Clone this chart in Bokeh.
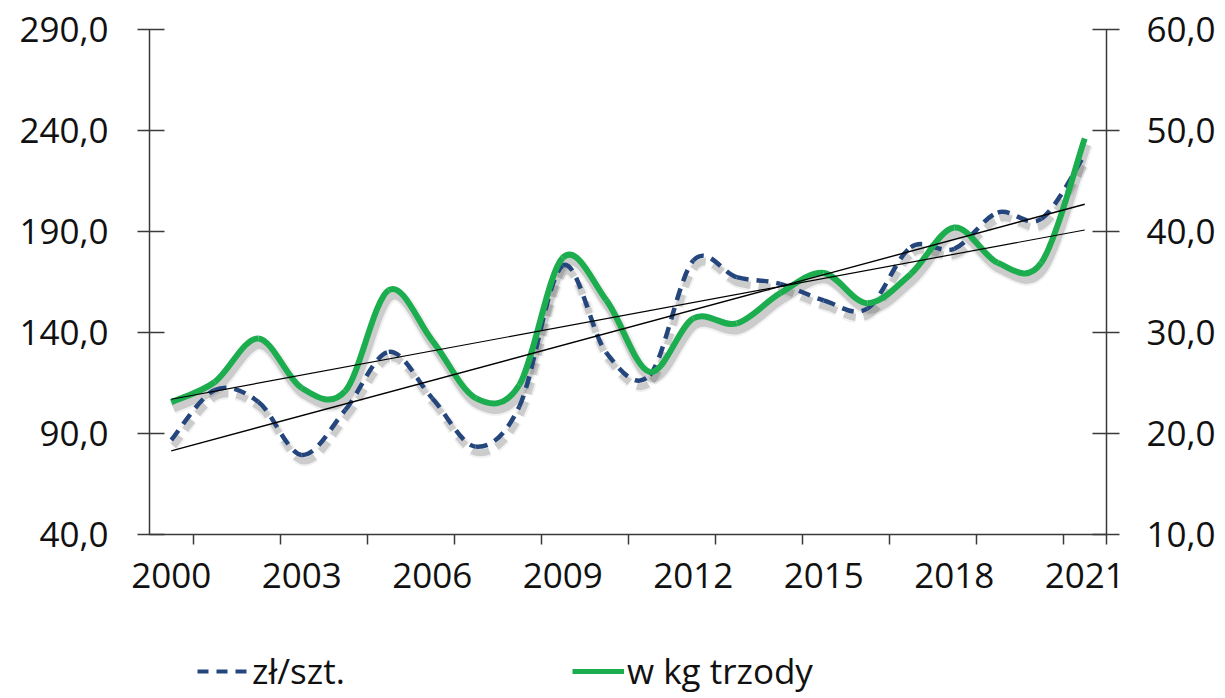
import numpy as np
from bokeh.plotting import figure
from bokeh.layouts import column
from bokeh.models import (Range1d, LinearAxis, FixedTicker, Legend, LegendItem,
                          ColumnDataSource)
from bokeh.embed import file_html
from bokeh.resources import INLINE

# ---------------- data ----------------
years = list(range(2000, 2022))
zl_szt = [86.8, 111.5, 105.7, 79.4, 101.6, 130.4, 107.5, 83.5, 103.3, 173.1, 130.0,
          118.9, 175.6, 167.4, 164.1, 155.9, 151.8, 182.2, 181.4, 199.4, 196.2, 228.0]
kg_trzody = [23.1, 25.1, 29.4, 24.5, 24.2, 34.2, 29.2, 23.5, 24.8, 37.4, 33.2,
             26.1, 31.4, 30.9, 33.9, 35.9, 32.9, 35.8, 40.4, 36.9, 36.9, 49.2]
left_ticks = [40, 90, 140, 190, 240, 290]
left_labels = ["40,0", "90,0", "140,0", "190,0", "240,0", "290,0"]
right_ticks = [10, 20, 30, 40, 50, 60]
right_labels = ["10,0", "20,0", "30,0", "40,0", "50,0", "60,0"]
x_label_years = [2000, 2003, 2006, 2009, 2012, 2015, 2018, 2021]
series_names = ["zł/szt.", "w kg trzody"]

# ---------------- style ----------------
FONT = "Open Sans"
FS = "35px"
NAVY = "#24467c"
GREEN = "#1cad4f"
AXIS_C = "#3a3a3a"

W, H, HL = 1225, 640, 58
ML, MR, MT, MB = 149, 119, 29, 106
frame_w = W - ML - MR
frame_h = H - MT - MB

p = figure(width=W, height=H, output_backend="svg", toolbar_location=None,
           x_range=Range1d(1999.5, 2021.5), y_range=Range1d(40, 290),
           min_border_left=ML, min_border_right=MR, min_border_top=MT,
           min_border_bottom=MB, x_axis_type=None, y_axis_type=None)
p.extra_y_ranges = {"r": Range1d(10, 60)}
p.outline_line_color = None
p.xgrid.visible = False
p.ygrid.visible = False
p.background_fill_color = "white"
p.border_fill_color = "white"

px_x = frame_w / 22.0
px_l = frame_h / 250.0
px_r = frame_h / 50.0


def bez(xs, ys):
    xs = np.asarray(xs, float)
    ys = np.asarray(ys, float)
    n = len(xs)
    d = dict(x0=[], y0=[], x1=[], y1=[], cx0=[], cy0=[], cx1=[], cy1=[])
    for i in range(n - 1):
        i0 = max(i - 1, 0)
        i3 = min(i + 2, n - 1)
        d["x0"].append(xs[i]); d["y0"].append(ys[i])
        d["x1"].append(xs[i + 1]); d["y1"].append(ys[i + 1])
        d["cx0"].append(xs[i] + (xs[i + 1] - xs[i0]) / 6.0)
        d["cy0"].append(ys[i] + (ys[i + 1] - ys[i0]) / 6.0)
        d["cx1"].append(xs[i + 1] - (xs[i3] - xs[i]) / 6.0)
        d["cy1"].append(ys[i + 1] - (ys[i3] - ys[i]) / 6.0)
    return d


def shifted(d, dx, dy):
    out = {}
    for k, v in d.items():
        if k.startswith("x") or k.startswith("cx"):
            out[k] = [a + dx for a in v]
        else:
            out[k] = [a - dy for a in v]
    return out


bz_zl = bez(years, zl_szt)
bz_kg = bez(years, kg_trzody)

# shadows
for w, a in [(11, 0.08), (7, 0.22)]:
    p.bezier(source=ColumnDataSource(shifted(bz_zl, 2 / px_x, 6 / px_l)),
             x0="x0", y0="y0", x1="x1", y1="y1", cx0="cx0", cy0="cy0", cx1="cx1", cy1="cy1",
             line_color="#4a4a4a", line_alpha=a, line_width=w, line_dash="12 8")
for w, a in [(13, 0.08), (9, 0.22)]:
    p.bezier(source=ColumnDataSource(shifted(bz_kg, 2 / px_x, 6 / px_r)),
             x0="x0", y0="y0", x1="x1", y1="y1", cx0="cx0", cy0="cy0", cx1="cx1", cy1="cy1",
             line_color="#4a4a4a", line_alpha=a, line_width=w, y_range_name="r")

p.bezier(source=ColumnDataSource(bz_zl),
         x0="x0", y0="y0", x1="x1", y1="y1", cx0="cx0", cy0="cy0", cx1="cx1", cy1="cy1",
         line_color=NAVY, line_width=4.5, line_dash="12 8")
p.bezier(source=ColumnDataSource(bz_kg),
         x0="x0", y0="y0", x1="x1", y1="y1", cx0="cx0", cy0="cy0", cx1="cx1", cy1="cy1",
         line_color=GREEN, line_width=6, y_range_name="r")

# linear trend lines
yr = np.asarray(years, float)
k1, b1 = np.polyfit(yr, np.asarray(zl_szt), 1)
k2, b2 = np.polyfit(yr, np.asarray(kg_trzody), 1)
ends = [years[0], years[-1]]
p.line(ends, [k1 * e + b1 for e in ends], line_color="black", line_width=1.4)
p.line(ends, [k2 * e + b2 for e in ends], line_color="black", line_width=1.2,
       y_range_name="r")

# axes
def style_axis(ax):
    ax.axis_line_color = AXIS_C
    ax.axis_line_width = 1.5
    ax.major_tick_line_color = AXIS_C
    ax.major_tick_line_width = 1.5
    ax.minor_tick_line_color = AXIS_C
    ax.minor_tick_line_width = 1.5
    ax.major_label_text_font = FONT
    ax.major_label_text_font_size = FS
    ax.major_label_text_color = "#111111"

ax_l = LinearAxis(ticker=FixedTicker(ticks=left_ticks, minor_ticks=[]),
                  major_label_overrides=dict(zip(left_ticks, left_labels)))
style_axis(ax_l)
ax_l.major_tick_out = 12
ax_l.major_tick_in = 15
ax_l.minor_tick_out = 0
ax_l.minor_tick_in = 0
ax_l.major_label_standoff = 29
p.add_layout(ax_l, "left")

ax_r = LinearAxis(y_range_name="r",
                  ticker=FixedTicker(ticks=right_ticks, minor_ticks=[]),
                  major_label_overrides=dict(zip(right_ticks, right_labels)))
style_axis(ax_r)
ax_r.major_tick_out = 13
ax_r.major_tick_in = 14
ax_r.minor_tick_out = 0
ax_r.minor_tick_in = 0
ax_r.major_label_standoff = 27
p.add_layout(ax_r, "right")

minor_x = [y + 0.5 for y in years[::2]] + [years[-1] + 0.5]
ax_b = LinearAxis(ticker=FixedTicker(ticks=x_label_years, minor_ticks=minor_x),
                  major_label_overrides={y: str(y) for y in x_label_years})
style_axis(ax_b)
ax_b.major_tick_line_color = None
ax_b.major_tick_out = 10
ax_b.major_tick_in = 0
ax_b.minor_tick_out = 10
ax_b.minor_tick_in = 0
ax_b.major_label_standoff = 18
p.add_layout(ax_b, "below")

# ---------------- legend strip ----------------
pl = figure(width=W, height=HL, output_backend="svg", toolbar_location=None,
            x_range=Range1d(-2, -1), y_range=Range1d(-2, -1),
            min_border_left=ML, min_border_right=MR, min_border_top=0,
            min_border_bottom=0, x_axis_type=None, y_axis_type=None)
pl.outline_line_color = None
pl.xgrid.visible = False
pl.ygrid.visible = False
pl.border_fill_color = "white"

# legend proxies: the real series, drawn outside this strip's visible range
r_leg1 = pl.line(years, zl_szt, line_color=NAVY, line_width=4, line_dash="11 8")
r_leg2 = pl.line(years, kg_trzody, line_color=GREEN, line_width=5)

for r, name, x in [(r_leg1, series_names[0], 197 - ML), (r_leg2, series_names[1], 572 - ML)]:
    lg = Legend(items=[LegendItem(label=name, renderers=[r])], location=(x, 4),
                orientation="horizontal", label_text_font=FONT,
                label_text_font_size=FS, label_text_color="#111111",
                glyph_width=52, glyph_height=36, label_standoff=3,
                padding=0, margin=0, spacing=0, border_line_color=None,
                background_fill_alpha=0, click_policy="none")
    pl.add_layout(lg)

layout = column(p, pl, spacing=0)
open("out.html", "w").write(file_html(layout, INLINE))
